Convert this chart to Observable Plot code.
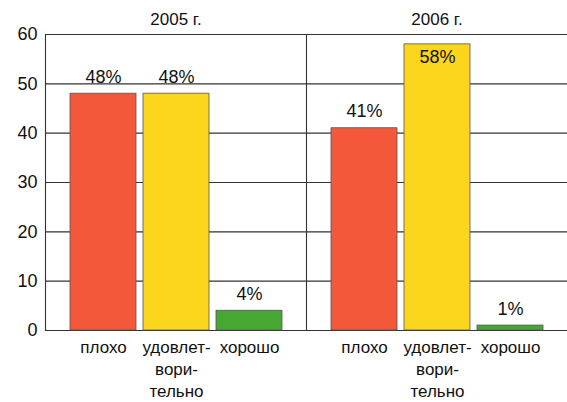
<!DOCTYPE html>
<html>
<head>
<meta charset="utf-8">
<script src="https://cdn.jsdelivr.net/npm/d3@7"></script>
<script src="https://cdn.jsdelivr.net/npm/@observablehq/plot@0.6"></script>
<style>
  html, body { margin: 0; padding: 0; background: #fff; }
</style>
</head>
<body>
<div id="chart"></div>
<script>
const years = [2005, 2006];
const categories = ["плохо", "удовлетворительно", "хорошо"];
const categoryLabels = ["плохо", "удовлет-\nвори-\nтельно", "хорошо"];
const values2005 = [48, 48, 4];
const values2006 = [41, 58, 1];
const yTicks = [0, 10, 20, 30, 40, 50, 60];
const colors = ["#f4583b", "#fbd61c", "#47a733"];

const seriesByYear = {2005: values2005, 2006: values2006};
const data = years.flatMap(year =>
  categories.map((category, i) => ({year, category, value: seriesByYear[year][i]}))
);
const labelOf = new Map(categories.map((c, i) => [c, categoryLabels[i]]));

const chart = Plot.plot({
  width: 567,
  height: 402,
  marginTop: 34,
  marginLeft: 45,
  marginRight: 0,
  marginBottom: 72,
  style: {fontFamily: "Liberation Sans, Arial, sans-serif", fontSize: "17px", color: "#111", background: "#fff"},
  fx: {domain: years, padding: 0},
  x: {domain: categories, paddingInner: 0.1, paddingOuter: 0.33},
  y: {domain: [0, 60]},
  color: {domain: categories, range: colors},
  marks: [
    Plot.ruleY(yTicks, {stroke: "#333", strokeWidth: 1.1}),
    Plot.frame({anchor: "left", stroke: "#333", strokeWidth: 1.1}),
    Plot.barY(data, {fx: "year", x: "category", y: "value", fill: "category", stroke: "#555", strokeWidth: 0.8}),
    Plot.text(data.filter(d => d.value < 55), {fx: "year", x: "category", y: "value", text: d => d.value + "%", dy: -11, lineAnchor: "bottom", fontSize: 18, fill: "#111"}),
    Plot.text(data.filter(d => d.value >= 55), {fx: "year", x: "category", y: "value", text: d => d.value + "%", dy: 6, lineAnchor: "top", fontSize: 18, fill: "#111"}),
    Plot.axisFx({anchor: "top", tickSize: 0, tickPadding: 10, label: null, tickFormat: d => `${d} г.`, fontSize: 17, fill: "#111"}),
    Plot.axisX({tickSize: 0, tickPadding: 7, label: null, tickFormat: d => labelOf.get(d), fontSize: 17, lineHeight: 1.3, fill: "#111"}),
    Plot.axisY({ticks: yTicks, tickSize: 0, tickPadding: 8, label: null, fontSize: 18, fill: "#111"})
  ]
});
document.getElementById("chart").appendChild(chart);
</script>
</body>
</html>
